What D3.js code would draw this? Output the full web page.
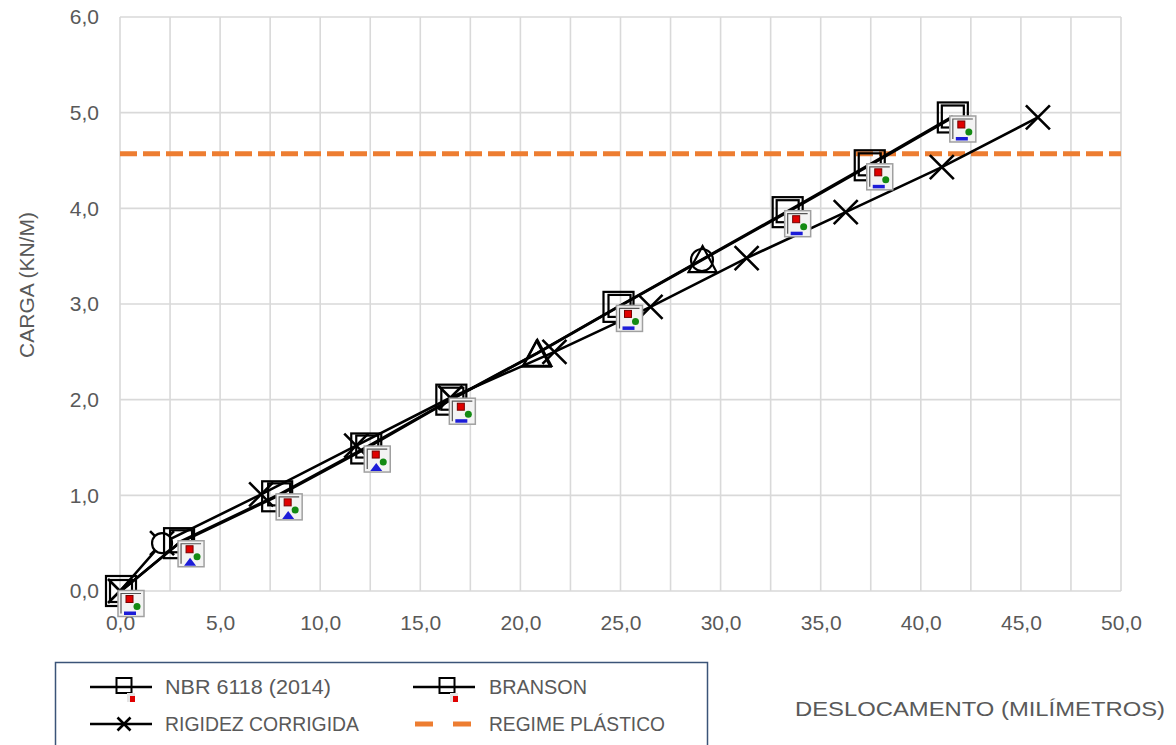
<!DOCTYPE html>
<html><head><meta charset="utf-8">
<script src="https://cdn.jsdelivr.net/npm/d3@7"></script>
<style>body{margin:0;background:#fff;overflow:hidden} svg{display:block}</style>
</head><body>
<svg id="c" width="1176" height="745"></svg>
<script>
// ---- data ----
const xTicks = [0, 5, 10, 15, 20, 25, 30, 35, 40, 45, 50];
const yTicks = [0, 1, 2, 3, 4, 5, 6];
const xTickLabels = ["0,0","5,0","10,0","15,0","20,0","25,0","30,0","35,0","40,0","45,0","50,0"];
const yTickLabels = ["0,0","1,0","2,0","3,0","4,0","5,0","6,0"];

const nbrX = [0.05, 2.95, 7.85, 12.3, 16.55, 20.8, 24.9, 29.07, 33.35, 37.45, 41.6];
const nbrY = [0.0, 0.50, 0.99, 1.49, 2.0, 2.48, 2.97, 3.46, 3.96, 4.45, 4.95];
const nbrMarkers = ["square","square","square","square","square","triangle","square","circle","square","square","square"];

const bransonX = [0.05, 3.05, 7.95, 12.35, 16.6, 20.85, 24.95, 29.1, 33.35, 37.45, 41.6];
const bransonY = [0.0, 0.52, 1.01, 1.51, 2.01, 2.49, 2.98, 3.47, 3.97, 4.46, 4.96];
const bransonMarkers = ["square","square","square","square","square","triangle","square","triangle","square","square","square"];
const bransonIcons = ["bar","tri","tri","tri","bar",null,"bar",null,"bar","bar","bar"];

const rigX = [0.0, 2.1, 7.05, 11.8, 16.5, 21.7, 26.5, 31.3, 36.25, 41.05, 45.85];
const rigY = [0.0, 0.50, 1.01, 1.52, 2.02, 2.50, 2.97, 3.48, 3.96, 4.43, 4.95];
const rigMarkers = ["x","xcircle","x","x","x","x","x","x","x","x","x"];

const plasticLoad = 4.57;
const xMinor = [0,2.5,5,7.5,10,12.5,15,17.5,20,22.5,25,27.5,30,32.5,35,37.5,40,42.5,45,47.5,50];

const legendNames = ["NBR 6118 (2014)", "BRANSON", "RIGIDEZ CORRIGIDA", "REGIME PLÁSTICO"];

// ---- drawing ----
const svg = d3.select("#c");
const L = 120, R = 1121, T = 17, B = 591;
const x = d3.scaleLinear().domain([0, 50]).range([L, R]);
const y = d3.scaleLinear().domain([0, 6]).range([B, T]);
const grey = "#595959";

// gridlines
const g = svg.append("g");
g.selectAll("line.v").data(xMinor).join("line")
  .attr("x1", d => x(d)).attr("x2", d => x(d)).attr("y1", T).attr("y2", B)
  .attr("stroke", "#d9d9d9").attr("stroke-width", 1.6);
g.selectAll("line.h").data(yTicks).join("line")
  .attr("x1", L).attr("x2", R).attr("y1", d => y(d)).attr("y2", d => y(d))
  .attr("stroke", "#d9d9d9").attr("stroke-width", 1.6);

// axes labels via d3 axes
const yAxis = svg.append("g").attr("transform", `translate(${L},0)`)
  .call(d3.axisLeft(y).tickValues(yTicks).tickFormat((d,i) => yTickLabels[i]).tickSize(0).tickPadding(21));
const xAxis = svg.append("g").attr("transform", `translate(0,${B})`)
  .call(d3.axisBottom(x).tickValues(xTicks).tickFormat((d,i) => xTickLabels[i]).tickSize(0).tickPadding(24));
[yAxis, xAxis].forEach(a => {
  a.select(".domain").remove();
  a.selectAll("text").attr("fill", grey).style("font-family", "'Liberation Sans', Arial, sans-serif").style("font-size", "21px");
});

// plastic line
svg.append("line").attr("x1", L).attr("x2", R).attr("y1", y(plasticLoad)).attr("y2", y(plasticLoad))
  .attr("stroke", "#ED7D31").attr("stroke-width", 5).attr("stroke-dasharray", "17,6");

// series lines
const line = d3.line().x(d => x(d[0])).y(d => y(d[1]));
const zip = (a, b) => a.map((v, i) => [v, b[i]]);
const series = [
  {pts: zip(rigX, rigY)},
  {pts: zip(bransonX, bransonY)},
  {pts: zip(nbrX, nbrY)}
];
series.forEach(s => {
  svg.append("path").attr("d", line(s.pts)).attr("fill", "none")
    .attr("stroke", "#000").attr("stroke-width", 2.6).attr("stroke-linejoin", "round");
});

function drawMarker(sel, type, cx, cy, size) {
  const st = {stroke: "#000", "stroke-width": 2.2, fill: "none"};
  const apply = el => { Object.entries(st).forEach(([k,v]) => el.attr(k, v)); return el; };
  if (type === "square") {
    apply(sel.append("rect").attr("x", cx - size/2).attr("y", cy - size/2).attr("width", size).attr("height", size));
  } else if (type === "triangle") {
    const w = 28, h = 26;
    apply(sel.append("path").attr("d", `M${cx - w/2},${cy + h/2}L${cx},${cy - h/2}L${cx + w/2},${cy + h/2}Z`));
  } else if (type === "circle") {
    apply(sel.append("circle").attr("cx", cx).attr("cy", cy).attr("r", 11));
  } else if (type === "x" || type === "xcircle") {
    const h = size/2;
    sel.append("path").attr("d", `M${cx-h},${cy-h}L${cx+h},${cy+h}M${cx+h},${cy-h}L${cx-h},${cy+h}`)
      .attr("stroke", "#000").attr("stroke-width", 2.6).attr("fill", "none");
    if (type === "xcircle") {
      sel.append("circle").attr("cx", cx).attr("cy", cy).attr("r", 10)
        .attr("fill", "#fff").attr("stroke", "#000").attr("stroke-width", 2.2);
    }
  }
}

function drawIcon(sel, kind, cx, cy, scale) {
  const s = scale || 1;
  const gI = sel.append("g").attr("transform", `translate(${cx},${cy}) scale(${s})`);
  gI.append("rect").attr("x", -13).attr("y", -13).attr("width", 26).attr("height", 26)
    .attr("fill", "#f3f3f3").attr("stroke", "#a0a0a0").attr("stroke-width", 1.5);
  gI.append("path").attr("d", "M-10,10L-10,-10L10,-10").attr("fill", "none")
    .attr("stroke", "#555").attr("stroke-width", 1.2);
  gI.append("rect").attr("x", -5).attr("y", -8).attr("width", 7).attr("height", 7)
    .attr("fill", "#e00000").attr("stroke", "#700").attr("stroke-width", 1);
  gI.append("circle").attr("cx", 6).attr("cy", 3).attr("r", 3.5).attr("fill", "#138a13");
  if (kind === "tri") {
    gI.append("path").attr("d", "M-7,12L-1,4L5,12Z").attr("fill", "#1c1cd8");
  } else {
    gI.append("rect").attr("x", -7).attr("y", 8).attr("width", 12).attr("height", 3.5).attr("fill", "#1c1cd8");
  }
}

// rigidez markers
const mg = svg.append("g");
rigX.forEach((v, i) => drawMarker(mg, rigMarkers[i], x(v), y(rigY[i]), 24));
// NBR markers (outer squares)
nbrX.forEach((v, i) => drawMarker(mg, nbrMarkers[i], x(v), y(nbrY[i]), 30));
// BRANSON markers (inner squares)
bransonX.forEach((v, i) => drawMarker(mg, bransonMarkers[i], x(v), y(bransonY[i]), 22));
// picture icons
bransonX.forEach((v, i) => {
  if (bransonIcons[i]) drawIcon(mg, bransonIcons[i], x(v) + 10, y(bransonY[i]) + 12.5);
});

// axis titles
svg.append("text").attr("transform", "translate(34,285) rotate(-90)")
  .attr("text-anchor", "middle").attr("fill", grey)
  .style("font-family", "'Liberation Sans', Arial, sans-serif").style("font-size", "21px")
  .text("CARGA (KN/M)");
svg.append("text").attr("x", 795).attr("y", 716).attr("fill", grey)
  .attr("textLength", 370).attr("lengthAdjust", "spacingAndGlyphs")
  .style("font-family", "'Liberation Sans', Arial, sans-serif").style("font-size", "21px")
  .text("DESLOCAMENTO (MILÍMETROS)");

// legend
const lg = svg.append("g");
lg.append("rect").attr("x", 55.5).attr("y", 662.5).attr("width", 652).attr("height", 100)
  .attr("fill", "#fff").attr("stroke", "#3b5478").attr("stroke-width", 1.5);
const rows = [
  {lx: 90, ty: 687, kind: "sq", tx: 165, w: 166},
  {lx: 413, ty: 687, kind: "sq", tx: 489, w: 98},
  {lx: 90, ty: 724, kind: "x", tx: 165, w: 194},
  {lx: 413, ty: 724, kind: "dash", tx: 489, w: 176}
];
rows.forEach((r, i) => {
  if (r.kind === "dash") {
    lg.append("line").attr("x1", r.lx + 2).attr("x2", r.lx + 60).attr("y1", r.ty).attr("y2", r.ty)
      .attr("stroke", "#ED7D31").attr("stroke-width", 5).attr("stroke-dasharray", "18,20");
  } else {
    lg.append("line").attr("x1", r.lx).attr("x2", r.lx + 62).attr("y1", r.ty).attr("y2", r.ty)
      .attr("stroke", "#000").attr("stroke-width", 2.6);
    const cx = r.lx + 34;
    if (r.kind === "sq") {
      lg.append("rect").attr("x", cx - 7.5).attr("y", r.ty - 9).attr("width", 15).attr("height", 15)
        .attr("fill", "none").attr("stroke", "#000").attr("stroke-width", 2);
      lg.append("rect").attr("x", cx + 3).attr("y", r.ty + 6).attr("width", 8).attr("height", 9)
        .attr("fill", "#e6e6e6");
      lg.append("rect").attr("x", cx + 6).attr("y", r.ty + 9).attr("width", 5).attr("height", 6)
        .attr("fill", "#e00000");
    } else {
      const h = 6.5;
      lg.append("path").attr("d", `M${cx-h},${r.ty-h}L${cx+h},${r.ty+h}M${cx+h},${r.ty-h}L${cx-h},${r.ty+h}`)
        .attr("stroke", "#000").attr("stroke-width", 2.6);
    }
  }
  lg.append("text").attr("x", r.tx).attr("y", r.ty).attr("dy", "0.35em")
    .attr("fill", grey).attr("textLength", r.w).attr("lengthAdjust", "spacingAndGlyphs")
    .style("font-family", "'Liberation Sans Narrow', 'Liberation Sans', Arial, sans-serif").style("font-size", "20px")
    .text(legendNames[i]);
});
</script>
</body></html>
